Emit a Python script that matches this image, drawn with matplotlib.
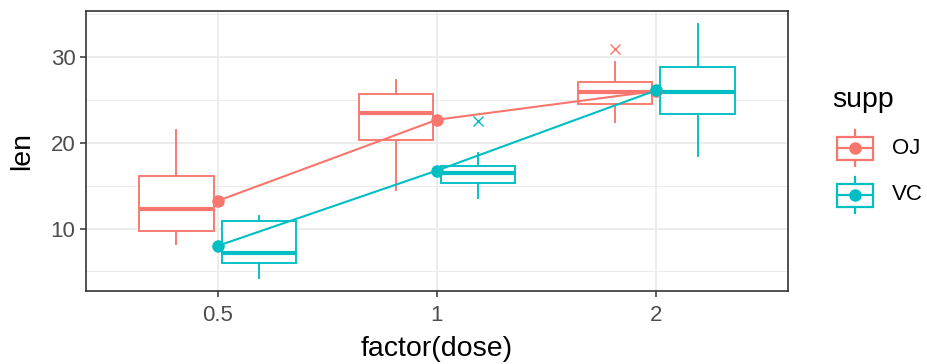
import matplotlib
matplotlib.use("Agg")
import matplotlib.pyplot as plt
import matplotlib.patches as mpatches
import numpy as np

# ToothGrowth: len by supp and dose, box stats
doses = ["0.5", "1", "2"]

oj_lo = [8.2, 14.5, 22.4]
oj_q1 = [9.7, 20.3, 24.575]
oj_med = [12.25, 23.45, 25.95]
oj_q3 = [16.175, 25.65, 27.075]
oj_hi = [21.5, 27.3, 29.4]
oj_out = [[], [], [30.9]]
oj_mean = [13.23, 22.70, 26.06]

vc_lo = [4.2, 13.6, 18.5]
vc_q1 = [5.95, 15.275, 23.375]
vc_med = [7.15, 16.5, 25.95]
vc_q3 = [10.9, 17.3, 28.8]
vc_hi = [11.5, 18.8, 33.9]
vc_out = [[], [22.5], []]
vc_mean = [7.98, 16.77, 26.14]

supp = ["OJ", "VC"]
supp_colors = {"OJ": "#F8766D", "VC": "#00BFC4"}

W, H = 927, 364
DPI = 100
plt.rcParams["font.family"] = ["Liberation Sans", "DejaVu Sans"]

fig = plt.figure(figsize=(W / DPI, H / DPI), dpi=DPI)
# panel position in pixels: left 86, right 788, top 11, bottom 291
ax = fig.add_axes([86 / W, 1 - 291 / H, (788 - 86) / W, (291 - 11) / H])

x = np.arange(1, len(doses) + 1)
dodge = 0.1875
box_w = 0.3375
LW = 1.35
TITLE_FS = 20.5
TEXT_FS = 16


def make_stats(lo, q1, med, q3, hi, out):
    return [dict(whislo=lo[i], q1=q1[i], med=med[i], q3=q3[i], whishi=hi[i],
                 fliers=out[i]) for i in range(len(lo))]


series = {
    "OJ": (make_stats(oj_lo, oj_q1, oj_med, oj_q3, oj_hi, oj_out), oj_mean, -dodge),
    "VC": (make_stats(vc_lo, vc_q1, vc_med, vc_q3, vc_hi, vc_out), vc_mean, dodge),
}

for name, (stats, means, off) in series.items():
    c = supp_colors[name]
    ax.bxp(stats, positions=x + off, widths=box_w, showcaps=False,
           patch_artist=True, manage_ticks=False,
           boxprops=dict(facecolor="white", edgecolor=c, linewidth=LW),
           whiskerprops=dict(color=c, linewidth=LW),
           medianprops=dict(color=c, linewidth=3.0, solid_capstyle="butt"),
           flierprops=dict(marker="x", markeredgecolor=c, markersize=7.5,
                           markeredgewidth=1.0),
           zorder=3)

for name, (stats, means, off) in series.items():
    c = supp_colors[name]
    ax.plot(x, means, color=c, linewidth=1.5, zorder=4)
    ax.plot(x, means, "o", color=c, markersize=8, zorder=5)

ax.set_xlim(0.4, 3.6)
ax.set_ylim(2.715, 35.385)
ax.set_xticks(x)
ax.set_xticklabels(doses)
ax.set_yticks([10, 20, 30])
ax.set_yticks([5, 15, 25, 35], minor=True)

ax.grid(True, which="major", color="#EBEBEB", linewidth=1.3, zorder=0)
ax.grid(True, which="minor", axis="y", color="#EBEBEB", linewidth=0.7, zorder=0)
ax.set_axisbelow(True)
ax.tick_params(which="major", length=4.5, width=1.1, color="#333333",
               labelcolor="#4D4D4D", labelsize=TEXT_FS)
ax.tick_params(which="minor", length=0)
ax.tick_params(axis="y", pad=3)
ax.tick_params(axis="x", pad=5.5)
for sp in ax.spines.values():
    sp.set_color("#333333")
    sp.set_linewidth(1.2)

ax.set_xlabel("factor(dose)", fontsize=TITLE_FS, color="black", labelpad=7)
ax.set_ylabel("len", fontsize=TITLE_FS, color="black", labelpad=11)

# legend drawn in a small overlay axes measured in pixels
lax = fig.add_axes([0, 0, 1, 1])
lax.set_xlim(0, W)
lax.set_ylim(H, 0)
lax.axis("off")
lax.text(832, 100, "supp", fontsize=TITLE_FS, va="center", ha="left")
for i, name in enumerate(supp):
    c = supp_colors[name]
    cy = 148 + i * 47
    lax.add_patch(mpatches.Rectangle((837, cy - 11.5), 36, 23, facecolor="white",
                                     edgecolor=c, linewidth=1.6))
    lax.plot([855, 855], [cy - 18, cy - 11.5], color=c, linewidth=1.6)
    lax.plot([855, 855], [cy + 11.5, cy + 18], color=c, linewidth=1.6)
    lax.plot([837, 873], [cy, cy], color=c, linewidth=1.6)
    lax.plot([855], [cy], "o", color=c, markersize=8)
    lax.text(892, cy, name, fontsize=TEXT_FS, va="center", ha="left")

fig.savefig("out.png", dpi=DPI)
